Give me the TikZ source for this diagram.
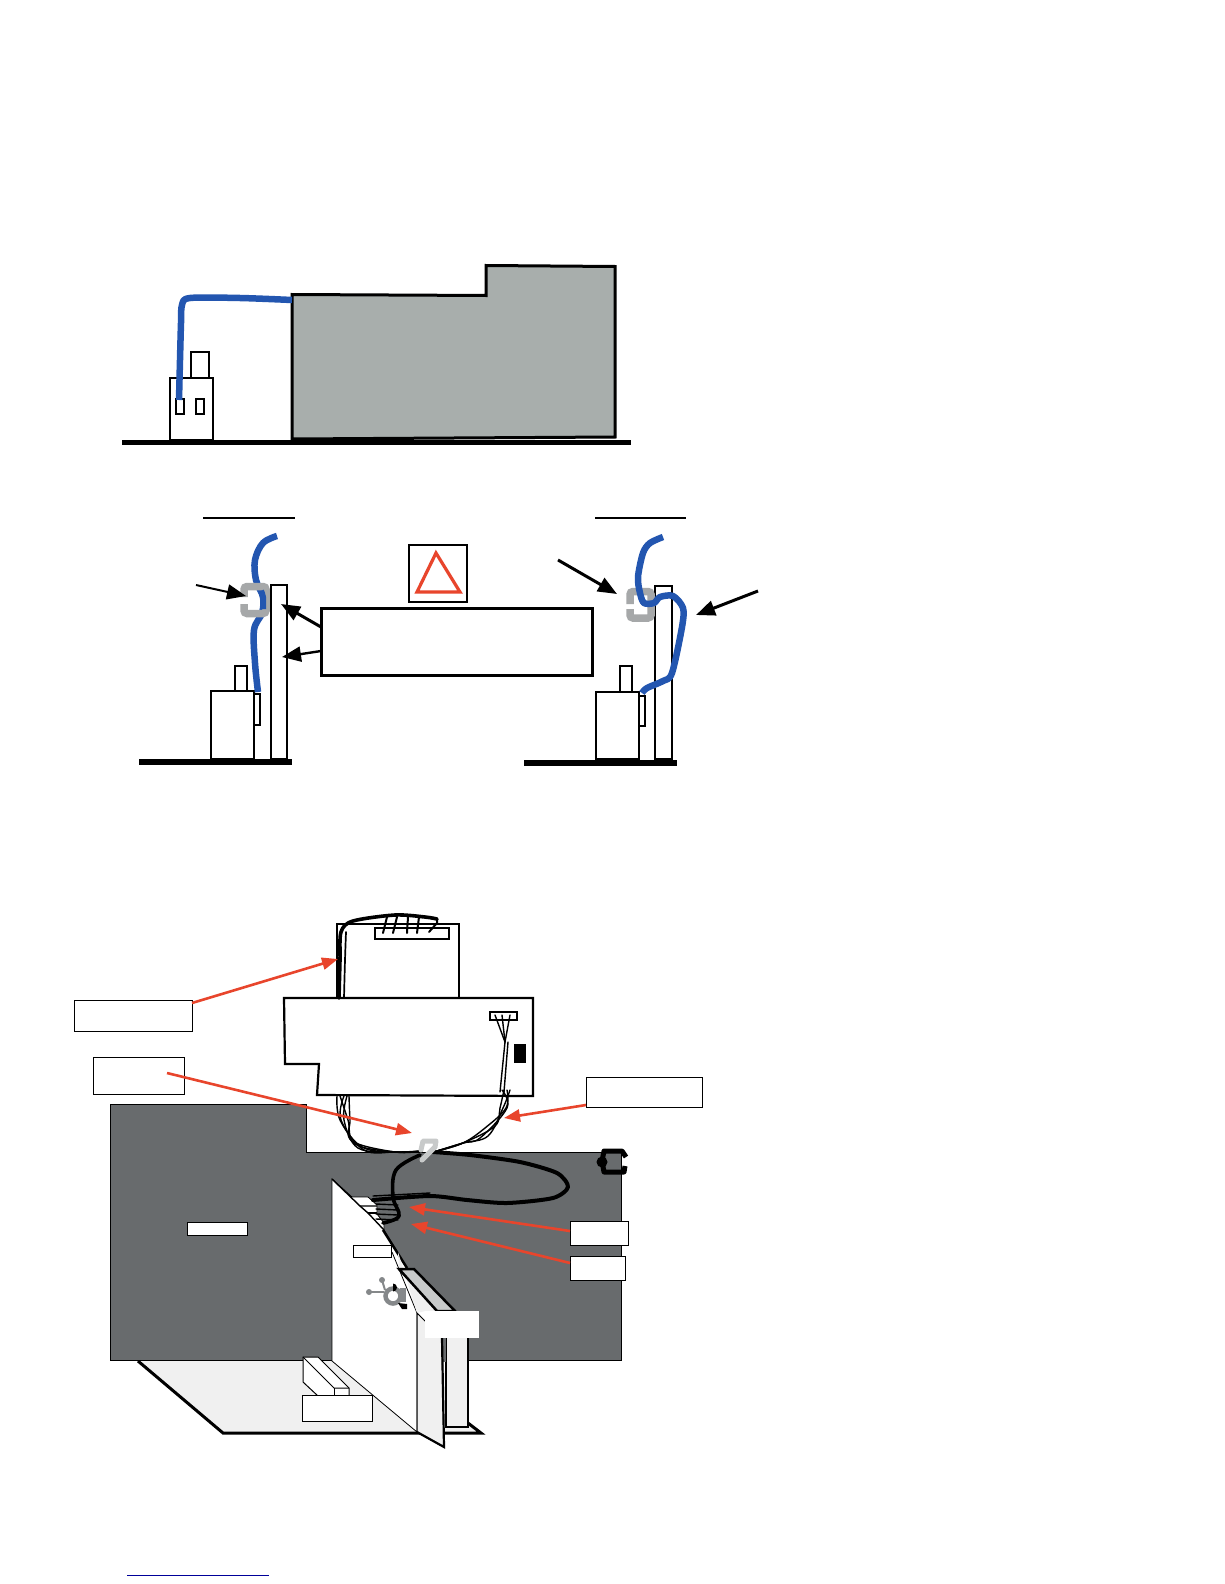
\documentclass[tikz,border=0pt]{standalone}
\usetikzlibrary{arrows.meta}
\definecolor{cblue}{HTML}{2356B0}
\definecolor{cgrey}{HTML}{A8AEAC}
\definecolor{cdark}{HTML}{686B6D}
\definecolor{clight}{HTML}{F0F0F0}
\definecolor{cclip}{HTML}{A6A8A9}
\definecolor{cred}{HTML}{E8452C}
\definecolor{cstick}{HTML}{C8CACA}
\definecolor{cring}{HTML}{85888A}
\newcommand{\bx}[6][]{\node[#2,#1,minimum width={(#5-#3)*1pt},minimum height={(#6-#4)*1pt}] (#2#3) at ({(#3+#5)/2},{(#4+#6)/2}) {};}
\tikzset{
 box/.style={draw=black,line width=2.7pt,fill=white,inner sep=0pt,outer sep=0pt},
 tag/.style={draw=black,line width=1pt,fill=white,inner sep=0pt,outer sep=0pt},
 ground/.style={draw=black,line width=5.5pt},
 cable/.style={draw=cblue,line width=6.5pt,line join=round},
 clip/.style={draw=cclip,line width=7.5pt,rounded corners=3pt},
 blk/.style={draw=black,line width=3pt,-{Triangle[length=19pt,width=15pt]}},
 redl/.style={draw=cred,line width=2.6pt,-{Triangle[length=16pt,width=12pt]}},
 wire/.style={draw=black,line width=1.4pt,line cap=round,line join=round},
 wirek/.style={draw=black,line width=3.6pt,line cap=round,line join=round},
}
\begin{document}
\begin{tikzpicture}[x=1pt,y=-1pt]
\useasboundingbox (0,0) rectangle (1224,1584);
\fill[white] (0,0) rectangle (1224,1584);

% ---------- top view
\draw[ground] (122,442.5) -- (631,442.5);
\draw[draw=black,line width=3pt,fill=cgrey] (292,294.5) -- (486,295.5) -- (486,265.5) -- (615,266.5) -- (615,437) -- (292,439) -- cycle;
\bx{box}{170}{378}{213}{440}
\bx{box}{191}{352}{209}{378}
\bx[line width=2.2pt]{box}{176}{399}{184}{414}
\bx[line width=2.2pt]{box}{196}{399}{204}{414}
\draw[cable] plot[smooth,tension=.5] coordinates {(179,400) (180,360) (181,323) (182,305) (190,298) (240,298) (292,300)};

% ---------- left side view
\draw[draw=black,line width=2pt] (203,518) -- (295,518);
\draw[ground] (139,762) -- (292,762);
\bx{box}{271}{585}{287}{759}
\bx{box}{211}{691}{254}{759}
\bx{box}{235}{666}{247}{691}
\bx[line width=2.2pt]{box}{254}{694}{260}{725}
\draw[cable] plot[smooth,tension=.6] coordinates {(277,536) (263,543) (255,560) (256,580) (263,597) (262,613) (254,630) (255,663) (258,692)};
\draw[clip] (244,597) -- (244,586.5) -- (266,586.5) -- (266,613.5) -- (244,613.5) -- (244,604);
\draw[draw=cblue,line width=6pt] plot[smooth,tension=.6] coordinates {(261,591) (263,597) (263,609)};
\coordinate (lclip) at (246,596);
\coordinate (lpanA) at (281,604);
\coordinate (lpanB) at (282,657);
\draw[blk,line width=2pt] (196,585) -- (lclip);

% ---------- warning
\bx[line width=2pt]{box}{409}{545}{467}{602}
\draw[draw=cred,line width=3.2pt,line join=miter] (436,553) -- (460,592) -- (417,592) -- cycle;
\bx[line width=3pt]{box}{321}{608}{592}{675}
\draw[blk] (box321.west |- 0,627) -- (lpanA);
\draw[blk,line width=2.4pt] (box321.west |- 0,651) -- (lpanB);

% ---------- right side view
\draw[draw=black,line width=2pt] (595,518) -- (686,518);
\draw[ground] (524,763) -- (677,763);
\bx{box}{655}{586}{672}{759}
\bx{box}{596}{692}{639}{759}
\bx{box}{620}{666}{632}{692}
\bx[line width=2pt]{box}{639}{696}{645}{726}
\draw[clip] (630,604) -- (630,591.5) -- (651,591.5) -- (651,618) -- (630,618) -- (630,609);
\draw[cable] plot[smooth,tension=.5] coordinates {(663,537) (650,543) (643,553) (638,577) (640,593) (644,603) (654,603) (660,597) (673,596) (683,608) (682,627) (672,673) (663,681) (647,688) (642,693)};
\coordinate (rclip) at (617,594);
\coordinate (rloop) at (696,615);
\draw[blk] (558,560) -- (rclip);
\draw[blk] (758,591) -- (rloop);

% ---------- lower assembly
\fill[clight] (138,1361) -- (223,1433) -- (481,1433) -- (468,1423) -- (440,1361) -- cycle;
\draw[draw=black,line width=3pt] (138,1361) -- (223,1433) -- (481,1433) -- (468,1423);
\draw[draw=black,line width=1pt,fill=cdark] (110,1104) -- (306,1104) -- (306,1152) -- (621,1152) -- (621,1360) -- (110,1360) -- cycle;
\bx[line width=1pt]{tag}{187}{1222}{247}{1235}
% stick
\draw[draw=black,line width=2.5pt,fill=clight] (446,1338) -- (446,1427) -- (468,1427) -- (468,1338);
\fill[cdark] (441,1338) rectangle (446,1362);
% white panel
\draw[draw=black,line width=.8pt,fill=white] (332,1179) -- (352,1197) -- (368,1197) -- (377,1205) -- (377,1214) -- (384,1223) -- (384,1230) -- (407,1268) -- (399,1270) -- (437,1311) -- (442,1340) -- (417,1313) -- (417,1432) -- (332,1361) -- (332,1360) -- cycle;
\draw[draw=black,line width=1.4pt] (332,1179) -- (360,1206) -- (377,1206);
\draw[draw=black,line width=1.4pt] (360,1206) -- (368,1213) -- (384,1230);
\draw[draw=black,line width=1.2pt] (368,1213) -- (377,1213);
\draw[draw=black,line width=2.5pt] (383,1230) -- (407,1268);
\draw[draw=black,line width=.8pt] (392,1252) -- (417,1313);
\fill[clight] (398,1252) -- (399,1270) -- (437,1311) -- (425,1311) -- (417,1313) -- cycle;
\draw[draw=black,line width=2.5pt,fill=cstick,line join=miter] (399,1269) -- (414,1269) -- (455,1311) -- (437,1311) -- cycle;
\draw[draw=black,line width=1pt,fill=clight] (417,1313) -- (442,1338) -- (444,1447) -- (417,1432) -- cycle;
\draw[draw=black,line width=2.2pt] (417,1432) -- (444,1447) -- (442,1338);
% slot
\draw[draw=black,line width=1pt,fill=white] (303,1357) -- (318,1357) -- (349,1388) -- (349,1396) -- (318,1396) -- (303,1382) -- cycle;
\draw[draw=black,line width=1pt] (303,1357) -- (334,1388) -- (349,1388);
\draw[draw=black,line width=1pt] (334,1388) -- (334,1396);
% ring
\draw[draw=cring,line width=2pt] (382,1280) -- (385,1290);
\draw[draw=cring,line width=2pt] (369,1292) -- (384,1292);
\fill[cring] (382,1280) circle (3);
\fill[cring] (369,1292) circle (3);
\fill[cring] (400,1288) rectangle (406,1302);
\draw[draw=cring,line width=4.5pt,fill=white] (393,1296) circle (7.5);
\fill[black] (393,1291.5) arc (90:-90:4) -- cycle;
\fill[black] (398,1303) -- (407,1304) -- (407,1309) -- (402,1309) -- cycle;
% labels on the assembly
\bx{tag}{353}{1245}{391}{1257}
\node[fill=white,inner sep=0pt,minimum width=54pt,minimum height=27pt] (wht) at (452,1324.5) {};
\bx{tag}{302}{1395}{372}{1421}

% upper boards
\bx[line width=2.2pt]{box}{337}{924}{459}{998}
\draw[draw=black,line width=2.2pt,fill=white] (284,998) -- (533,998) -- (533,1096) -- (317,1095) -- (319,1064) -- (285,1064) -- cycle;
\bx[line width=2.2pt]{box}{375}{928}{449}{939}
\bx[line width=2.2pt]{box}{490}{1012}{517}{1020}
\fill[black] (514,1044) rectangle (526,1063);

% wires
\draw[wirek] plot[smooth,tension=.5] coordinates {(339,998) (340,960) (341,932) (353,921) (395,915) (425,917) (437,919)};
\draw[wire,line width=1.7pt] plot[smooth,tension=.5] coordinates {(344,998) (345,960) (346,932)};
\draw[wire,line width=2pt] (437,919) -- (437,923) -- (429,932);
\foreach \xa/\xb in {387/383,397/393,408/407,419/417} \draw[wire,line width=2pt] (\xa,917) -- (\xb,933);
\foreach \ta/\tm/\tl/\ty in {337/340/362/1147,340/348/355/1144,344/341/364/1150,347/344/358/1148,349/350/352/1141}{
 \draw[wire] plot[smooth,tension=.6] coordinates {(\ta,1096) (\tm,1120) (\tl,\ty) (395,1152) (422,1151)};
}
\foreach \ta/\tm/\tl/\ty in {507/506/485/1128,504/500/495/1126,510/503/488/1136,502/507/480/1138}{
 \draw[wire] plot[smooth,tension=.6] coordinates {(\ta,1090) (\tm,1108) (\tl,\ty) (463,1143) (437,1151)};
}
\foreach \xa in {495,502,510}
 \draw[wire] (\xa,1015) -- (505,1042);
\draw[wire] (505,1042) -- (500,1092);
\draw[wire] (508,1042) -- (504,1092);
\draw[wirek,line width=4pt] plot[smooth,tension=.45] coordinates {(433,1152) (470,1155) (520,1162) (557,1173) (568,1187) (553,1198) (507,1203) (467,1200) (430,1196) (373,1200)};
\draw[wire] (373,1196) -- (430,1193);
\draw[wirek] plot[smooth,tension=.6] coordinates {(420,1155) (396,1170) (393,1197) (399,1216) (383,1223)};
\foreach \dy in {1204,1209,1214,1219} \draw[wire] (376,\dy) -- (398,\dy+1);
\draw[draw=cstick,line width=5pt,line join=round,line cap=round] (422,1160) -- (435,1147) -- (436,1141) -- (423,1141) -- (421,1150);

% black clip, right
\draw[draw=black,line width=5pt,line join=round] (626,1157) -- (622,1151) -- (604,1151) -- (602,1161) -- (604,1172) -- (624,1172) -- (625,1166);
\fill[black] (602,1162) circle (5.5);

% tags and red leaders
\bx{tag}{74}{1000}{192}{1031}
\bx{tag}{93}{1057}{184}{1094}
\bx{tag}{586}{1077}{702}{1107}
\bx{tag}{570}{1221}{628}{1245}
\bx{tag}{570}{1256}{625}{1280}
\coordinate (hA) at (338,959);
\coordinate (hB) at (412,1133);
\coordinate (hC) at (504,1118);
\coordinate (hD) at (409,1207);
\coordinate (hE) at (411,1224);
\draw[redl] (tag74.east |- 0,1003) -- (hA);
\draw[redl] (167,1073) -- (hB);
\draw[redl] (tag586.west |- 0,1105) -- (hC);
\draw[redl] (tag570.west |- 0,1231) -- (hD);
\draw[redl] (tag570.west |- 0,1263) -- (hE);

% link rule
\draw[draw=blue!60!black,line width=1pt] (127,1575) -- (269,1575);
\end{tikzpicture}
\end{document}
